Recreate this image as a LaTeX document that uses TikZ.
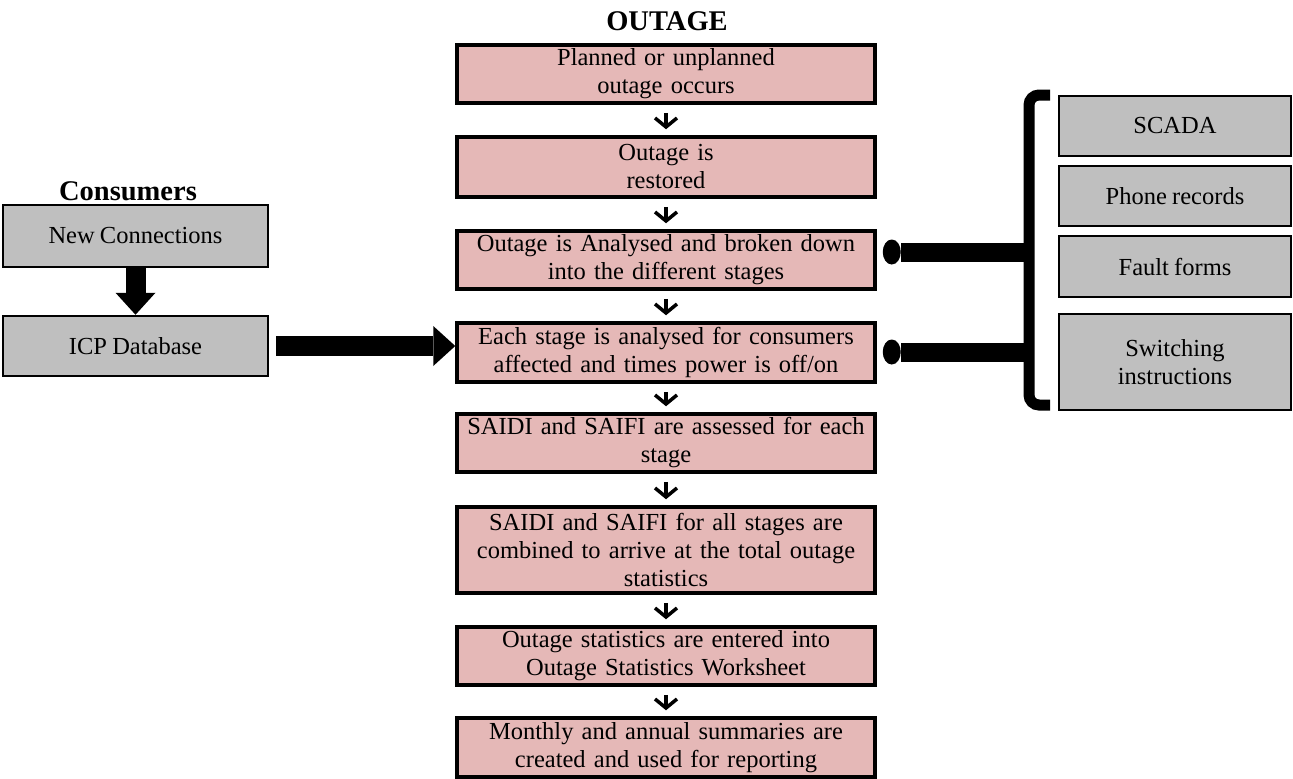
\documentclass[tikz,border=0pt]{standalone}
\usepackage{fontspec}
\setmainfont[WordSpace=0.85]{Liberation Serif}
\usetikzlibrary{arrows.meta}
\definecolor{pinkfill}{RGB}{229,184,183}
\definecolor{grayfill}{RGB}{191,191,191}
\begin{document}
\begin{tikzpicture}[x=1pt,y=-1pt,
  font=\fontsize{24.5}{28}\selectfont,
  stage/.style={draw=black, line width=3.5pt, fill=pinkfill, minimum width=418pt, inner sep=0pt, align=center, text width=416pt},
  src/.style={draw=black, line width=2.5pt, fill=grayfill, inner sep=0pt, align=center},
  title/.style={anchor=base, font=\fontsize{28.5}{30}\selectfont\bfseries},
  flow/.style={line width=3.5pt, -{Straight Barb[length=9pt,width=22pt]}, shorten <=8pt, shorten >=6pt},
  bigarrow/.style={line width=20pt, -{Triangle[length=22pt,width=40pt,line width=0pt]}},
  feed/.style={line width=19pt, -{Circle[length=18pt,width=25pt,line width=0pt]}},
  bracket/.style={line width=11pt, rounded corners=10pt}
]
\useasboundingbox (0,0) rectangle (1293,779);

% titles
\node[title] (tout) at (667,30) {OUTAGE};
\node[title] (tcons) at (128,200) {Consumers};

% central stages
\node[stage, minimum height=58pt] (b1) at (666,74) {Planned or unplanned\\outage occurs};
\node[stage, minimum height=60pt] (b2) at (666,167) {Outage is\\restored};
\node[stage, minimum height=58pt] (b3) at (666,260) {Outage is Analysed and broken down\\into the different stages};
\node[stage, minimum height=59pt] (b4) at (666,352.5) {Each stage is analysed for consumers\\affected and times power is off/on};
\node[stage, minimum height=58pt] (b5) at (666,443) {SAIDI and SAIFI are assessed for each\\stage};
\node[stage, minimum height=86pt] (b6) at (666,550) {SAIDI and SAIFI for all stages are\\combined to arrive at the total outage\\statistics};
\node[stage, minimum height=58pt] (b7) at (666,656) {Outage statistics are entered into\\Outage Statistics Worksheet};
\node[stage, minimum height=59pt] (b8) at (666,747.5) {Monthly and annual summaries are\\created and used for reporting};

\draw[flow] (b1.south) -- (b2.north);
\draw[flow] (b2.south) -- (b3.north);
\draw[flow] (b3.south) -- (b4.north);
\draw[flow] (b4.south) -- (b5.north);
\draw[flow] (b5.south) -- (b6.north);
\draw[flow] (b6.south) -- (b7.north);
\draw[flow] (b7.south) -- (b8.north);

% consumers side
\node[src, minimum width=265pt, minimum height=62pt] (nc) at (135.5,236) {New Connections};
\node[src, minimum width=265pt, minimum height=60pt] (icp) at (135.5,346) {ICP Database};
\draw[bigarrow] (nc.south) -- (icp.north);
\draw[bigarrow] ([xshift=7pt]icp.east) -- (icp.east -| b4.west);

% data sources
\node[src, minimum width=232pt, minimum height=60pt] (scada) at (1175,126) {SCADA};
\node[src, minimum width=232pt, minimum height=60pt] (phone) at (1175,196) {Phone records};
\node[src, minimum width=232pt, minimum height=61pt] (fault) at (1175,266.5) {Fault forms};
\node[src, minimum width=232pt, minimum height=96pt] (switch) at (1175,362) {Switching\\instructions};

\coordinate (brtop) at (1050,95);
\coordinate (brbot) at (1050,405);
\coordinate (j1) at (1029,252);
\coordinate (j2) at (1029,352);
\draw[bracket] (brtop) -- (1029,95) -- (1029,405) -- (brbot);
\draw[feed] (j1) -- ([xshift=6pt]j1 -| b3.east);
\draw[feed] (j2) -- ([xshift=6pt]j2 -| b4.east);
\end{tikzpicture}
\end{document}
